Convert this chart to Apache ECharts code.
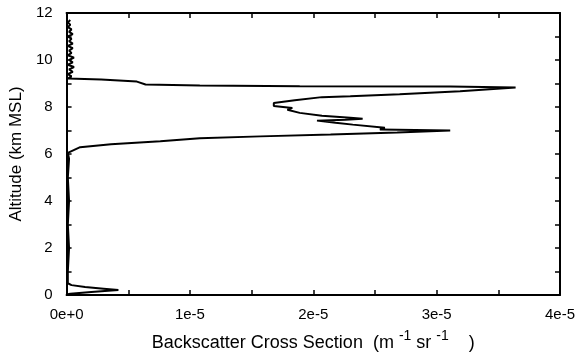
<!DOCTYPE html>
<html>
<head>
<meta charset="utf-8">
<script src="https://cdn.jsdelivr.net/npm/echarts@6/dist/echarts.min.js"></script>
<style>
html,body{margin:0;padding:0;background:#fff;}
#chart{width:582px;height:357px;}
</style>
</head>
<body>
<div id="chart"></div>
<script>
// Backscatter values in units of 1e-5 m^-1 sr^-1, paired with altitude (km MSL)
var backscatterE5 = [
  0.00, 0.03, 0.20, 0.42, 0.30, 0.15, 0.04, 0.01,
  0.01, 0.02, 0.01, 0.02, 0.01, 0.02, 0.01,
  0.01, 0.11, 0.36, 0.76, 1.08, 1.57, 2.14, 2.68, 3.11,
  2.54, 2.58, 2.32, 2.18, 2.03, 2.26, 2.40, 2.30, 2.07, 1.89, 1.79, 1.83, 1.68,
  1.68, 1.85, 2.07, 2.30, 2.70, 3.19, 3.64,
  3.11, 1.89, 1.08, 0.64, 0.57, 0.28, 0.01,
  0.04, 0.01, 0.05, 0.02, 0.06, 0.01, 0.05, 0.02, 0.06, 0.01, 0.04, 0.02,
  0.05, 0.01, 0.05, 0.02, 0.04, 0.01, 0.05, 0.02, 0.04, 0.01, 0.03, 0.01, 0.03
];
var altitudeKm = [
  0.02, 0.05, 0.13, 0.21, 0.27, 0.34, 0.42, 0.50,
  1.0, 2.0, 3.0, 4.0, 5.0, 5.8, 6.05,
  6.08, 6.29, 6.42, 6.54, 6.67, 6.75, 6.83, 6.92, 7.00,
  7.04, 7.12, 7.25, 7.33, 7.42, 7.46, 7.50, 7.54, 7.63, 7.75, 7.88, 7.96, 8.04,
  8.17, 8.29, 8.42, 8.46, 8.54, 8.67, 8.83,
  8.875, 8.88, 8.92, 8.96, 9.08, 9.17, 9.21,
  9.3, 9.4, 9.5, 9.6, 9.7, 9.8, 9.9, 10.0, 10.1, 10.2, 10.3, 10.4,
  10.5, 10.6, 10.7, 10.8, 10.9, 11.0, 11.1, 11.2, 11.3, 11.4, 11.5, 11.6, 11.7
];
var xTickLabels = {0: '0e+0', 1: '1e-5', 2: '2e-5', 3: '3e-5', 4: '4e-5'};
var yTickLabels = {0: '0', 2: '2', 4: '4', 6: '6', 8: '8', 10: '10', 12: '12'};

var profile = backscatterE5.map(function (v, i) { return [v, altitudeKm[i]]; });

var FONT = 'Liberation Sans';
var lineStyleAxis = {color: '#000', width: 2};
var tickStyle = {inside: true, length: 5, lineStyle: {color: '#000', width: 1.5}};

var chart = echarts.init(document.getElementById('chart'));
chart.setOption({
  animation: false,
  backgroundColor: '#fff',
  grid: {left: 66, right: 22, top: 13, bottom: 56, containLabel: false},
  xAxis: [{
    type: 'value', min: 0, max: 4, interval: 0.5, position: 'bottom',
    axisLine: {show: true, onZero: false, lineStyle: lineStyleAxis},
    axisTick: tickStyle,
    splitLine: {show: false},
    axisLabel: {
      color: '#000', fontFamily: FONT, fontSize: 15, margin: 12,
      formatter: function (v) { return xTickLabels[v] !== undefined ? xTickLabels[v] : ''; }
    },
    name: 'Backscatter Cross Section  (m{sp| }{sup|-1}{sp| }sr{sp| }{sup|-1}{sp|    })',
    nameLocation: 'middle', nameGap: 34,
    nameTextStyle: {
      color: '#000', fontFamily: FONT, fontSize: 18,
      rich: {
        sup: {fontSize: 14, fontFamily: FONT, color: '#000', padding: [0, 0, 14, 0]},
        sp: {fontSize: 18, fontFamily: FONT}
      }
    }
  }, {
    type: 'value', min: 0, max: 4, interval: 0.5, position: 'top',
    axisLine: {show: true, onZero: false, lineStyle: lineStyleAxis},
    axisTick: tickStyle, axisLabel: {show: false}, splitLine: {show: false}
  }],
  yAxis: [{
    type: 'value', min: 0, max: 12, interval: 1, position: 'left',
    axisLine: {show: true, onZero: false, lineStyle: lineStyleAxis},
    axisTick: tickStyle,
    splitLine: {show: false},
    axisLabel: {
      color: '#000', fontFamily: FONT, fontSize: 15, margin: 14,
      formatter: function (v) { return yTickLabels[v] !== undefined ? yTickLabels[v] : ''; }
    },
    name: 'Altitude (km MSL)', nameLocation: 'middle', nameGap: 40,
    nameTextStyle: {color: '#000', fontFamily: FONT, fontSize: 17}
  }, {
    type: 'value', min: 0, max: 12, interval: 1, position: 'right',
    axisLine: {show: true, onZero: false, lineStyle: lineStyleAxis},
    axisTick: tickStyle, axisLabel: {show: false}, splitLine: {show: false}
  }],
  series: [{
    type: 'line', xAxisIndex: 0, yAxisIndex: 0,
    data: profile, showSymbol: false, symbol: 'none',
    lineStyle: {color: '#000', width: 2}, smooth: false
  }]
});
</script>
</body>
</html>
